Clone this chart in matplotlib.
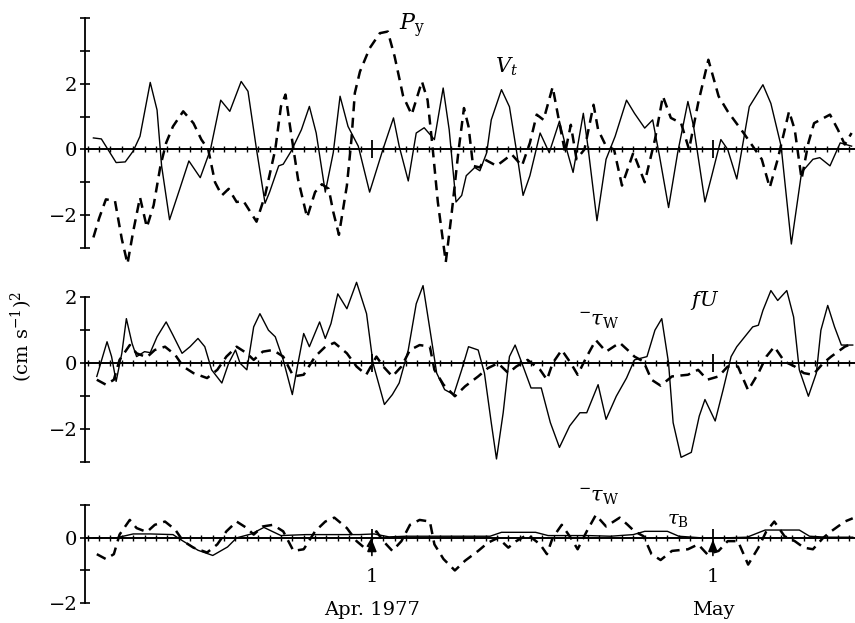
import matplotlib
matplotlib.use("Agg")
import matplotlib.pyplot as plt
from matplotlib.ticker import MultipleLocator, FixedLocator

plt.rcParams['font.family'] = ['DejaVu Serif']
plt.rcParams['mathtext.fontset'] = 'dejavuserif'

# days relative to 1 April 1977
vt_days = [-24.5, -23.8, -22.5, -21.7, -21.0, -20.4, -19.5, -18.9, -18.5, -17.8,
           -16.9, -16.1, -15.1, -14.2, -13.3, -12.5, -11.5, -10.9, -10.15, -9.4,
           -9.0, -8.2, -7.8, -7.1, -6.2, -5.5, -4.9, -4.1, -3.4, -2.8,
           -2.1, -1.2, -0.2, 0.97, 1.9, 2.4, 3.2, 3.9, 4.6, 5.5,
           6.27, 6.8, 7.4, 7.9, 8.3, 9.05, 9.5, 10.1, 10.5, 11.4,
           12.1, 12.7, 13.3, 13.9, 14.8, 15.6, 16.5, 16.97, 17.7, 18.6,
           19.0, 19.8, 20.6, 21.4, 22.4, 23.1, 24.0, 24.7, 25.3, 26.1,
           26.9, 27.8, 28.3, 29.3, 29.9, 30.7, 31.3, 32.1, 33.2, 34.4,
           35.1, 36.0, 36.9, 37.8, 38.8, 39.4, 40.3, 41.2, 42.2]
vt_vals = [0.35, 0.32, -0.4, -0.38, -0.05, 0.4, 2.04, 1.2, -0.5, -2.14,
           -1.2, -0.35, -0.86, 0.0, 1.5, 1.16, 2.07, 1.77, 0.0, -1.64,
           -1.3, -0.5, -0.45, -0.05, 0.6, 1.31, 0.5, -1.3, -0.1, 1.62,
           0.7, 0.1, -1.3, 0.0, 0.96, 0.1, -0.96, 0.5, 0.66, 0.3,
           1.87, 0.6, -1.6, -1.4, -0.8, -0.55, -0.65, -0.1, 0.9, 1.82,
           1.3, 0.0, -1.4, -0.8, 0.5, -0.1, 0.86, 0.2, -0.7, 1.1,
           0.1, -2.17, -0.3, 0.4, 1.5, 1.1, 0.65, 0.9, -0.2, -1.77,
           -0.1, 1.46, 0.7, -1.6, -0.8, 0.3, 0.0, -0.9, 1.3, 1.97,
           1.4, 0.1, -2.88, -0.7, -0.3, -0.25, -0.5, 0.2, 0.1]

py_days = [-24.5, -24.0, -23.4, -22.6, -22.0, -21.5, -21.0, -20.4, -19.8, -19.2,
           -18.6, -18.1, -17.5, -16.6, -15.7, -15.0, -14.4, -13.8, -13.2, -12.6,
           -11.9, -11.3, -10.15, -9.4, -8.5, -8.0, -7.6, -7.2, -6.5, -5.7,
           -5.0, -4.4, -3.8, -3.4, -2.9, -2.2, -1.8, -1.5, -1.05, -0.2,
           0.7, 1.4, 2.0, 2.75, 3.5, 4.4, 4.9, 5.3, 5.8, 6.5,
           7.0, 7.6, 8.1, 8.5, 8.9, 9.5, 9.9, 10.97, 12.3, 13.2,
           13.9, 14.5, 15.1, 15.9, 16.5, 17.0, 17.5, 18.0, 18.7, 19.5,
           19.9, 20.6, 21.3, 22.0, 23.0, 24.0, 24.9, 25.6, 26.3, 27.2,
           27.9, 28.7, 29.6, 30.5, 31.3, 32.7, 33.5, 34.3, 35.0, 35.7,
           36.7, 37.2, 37.8, 38.4, 38.9, 40.3, 41.0, 41.6, 42.2]
py_vals = [-2.68, -2.1, -1.52, -1.57, -2.73, -3.48, -2.5, -1.46, -2.37, -1.7,
           -0.5, 0.2, 0.7, 1.16, 0.8, 0.3, 0.0, -1.0, -1.4, -1.2,
           -1.6, -1.57, -2.2, -1.4, 0.0, 1.31, 1.67, 0.7, -0.9, -2.07,
           -1.3, -1.06, -1.2, -1.9, -2.6, -1.1, 0.3, 1.72, 2.37, 3.08,
           3.54, 3.59, 2.83, 1.62, 1.06, 2.07, 1.5, 0.2, -1.6, -3.43,
           -2.0, -0.1, 1.26, 0.7, -0.5, -0.55, -0.3, -0.5, -0.15, -0.5,
           0.2, 1.06, 0.9, 1.9, 0.8, -0.1, 0.75, -0.3, 0.0, 1.36,
           0.6, 0.1, 0.0, -1.1, -0.1, -1.0, 0.3, 1.62, 0.96, 0.8,
           0.0, 1.41, 2.73, 1.62, 1.16, 0.5, 0.1, -0.3, -1.16, -0.3,
           1.16, 0.6, -0.9, 0.2, 0.8, 1.06, 0.6, 0.15, 0.5]

fu_days = [-24.2, -23.3, -22.9, -22.5, -22.0, -21.6, -21.1, -20.7, -20.0, -19.5,
           -18.9, -18.1, -17.5, -16.7, -16.0, -15.3, -14.7, -14.1, -13.2, -12.6,
           -12.0, -11.6, -11.0, -10.4, -9.85, -9.1, -8.5, -7.8, -7.0, -6.5,
           -6.0, -5.5, -4.6, -4.1, -3.6, -3.0, -2.2, -1.35, -0.47, 0.1,
           1.1, 1.8, 2.4, 3.2, 3.9, 4.5, 5.25, 5.7, 6.4, 7.2,
           7.9, 8.5, 9.35, 9.9, 10.5, 10.96, 11.55, 12.1, 12.6, 13.2,
           14.0, 14.9, 15.7, 16.5, 17.4, 18.3, 18.9, 19.9, 20.6, 21.5,
           22.4, 23.1, 24.2, 24.9, 25.5, 26.1, 26.5, 27.2, 28.1, 28.8,
           29.3, 30.2, 30.9, 31.6, 32.1, 32.8, 33.5, 34.0, 34.4, 35.1,
           35.7, 36.5, 37.1, 37.6, 38.4, 39.1, 39.5, 40.1, 40.7, 41.3, 42.3]
fu_vals = [-0.4, 0.65, 0.2, -0.55, 0.3, 1.35, 0.6, 0.2, 0.35, 0.32,
           0.8, 1.25, 0.85, 0.3, 0.5, 0.75, 0.5, -0.2, -0.6, 0.0,
           0.4, 0.0, -0.2, 1.1, 1.5, 1.0, 0.8, 0.1, -0.95, 0.0,
           0.9, 0.5, 1.25, 0.75, 1.2, 2.1, 1.65, 2.45, 1.5, 0.0,
           -1.25, -0.95, -0.6, 0.4, 1.8, 2.35, 0.7, -0.3, -0.8, -0.95,
           -0.2, 0.5, 0.4, -0.3, -1.8, -2.9, -1.5, 0.2, 0.55, 0.0,
           -0.75, -0.75, -1.8, -2.55, -1.9, -1.5, -1.5, -0.65, -1.7, -1.0,
           -0.45, 0.1, 0.2, 1.0, 1.35, 0.0, -1.8, -2.85, -2.7, -1.6,
           -1.1, -1.75, -0.8, 0.2, 0.5, 0.8, 1.1, 1.15, 1.6, 2.2,
           1.9, 2.2, 1.4, -0.2, -1.0, -0.3, 1.0, 1.75, 1.1, 0.55, 0.55]

tw_days = [-24.2, -23.4, -22.7, -22.2, -21.3, -20.7, -19.8, -19.1, -18.2, -17.3,
           -16.6, -15.7, -14.5, -13.6, -12.8, -11.9, -11.0, -10.4, -9.6, -8.7,
           -7.8, -6.9, -6.0, -5.0, -4.1, -3.3, -2.2, -1.35, -0.5, 0.4,
           1.0, 1.8, 2.6, 3.35, 4.2, 5.1, 5.5, 6.3, 7.3, 8.2,
           9.35, 10.2, 11.1, 12.0, 12.7, 13.7, 14.8, 15.4, 15.9, 16.7,
           17.5, 18.1, 18.9, 19.7, 20.6, 21.8, 22.5, 23.1, 23.9, 24.6,
           25.4, 26.4, 27.8, 28.7, 29.5, 30.5, 31.3, 32.2, 33.1, 34.0,
           34.7, 35.4, 36.3, 37.2, 38.0, 38.8, 39.7, 40.4, 41.6, 42.3]
tw_vals = [-0.5, -0.65, -0.5, 0.1, 0.55, 0.3, 0.18, 0.4, 0.5, 0.25,
           -0.1, -0.3, -0.45, -0.2, 0.2, 0.5, 0.3, 0.1, 0.35, 0.4,
           0.2, -0.4, -0.35, 0.2, 0.5, 0.62, 0.3, -0.1, -0.35, 0.2,
           -0.1, -0.4, -0.1, 0.4, 0.55, 0.5, -0.2, -0.65, -1.0, -0.7,
           -0.4, -0.15, 0.0, -0.3, -0.1, 0.1, -0.2, -0.5, 0.0, 0.4,
           0.0, -0.35, 0.2, 0.7, 0.35, 0.62, 0.4, 0.2, 0.05, -0.5,
           -0.68, -0.4, -0.35, -0.2, -0.5, -0.4, -0.1, -0.1, -0.82, -0.3,
           0.2, 0.5, 0.05, -0.1, -0.3, -0.35, 0.0, 0.2, 0.5, 0.6]

tb_days = [-24.5, -22.5, -21.0, -19.5, -17.5, -16.7, -15.3, -14.0, -12.7, -11.9,
           -10.6, -9.5, -8.0, -5.8, -3.5, -1.1, 0.2, 1.5, 3.0, 5.0,
           7.0, 9.0, 10.4, 11.4, 13.0, 14.4, 15.5, 17.0, 19.0, 21.0,
           23.0, 24.0, 25.0, 26.0, 27.0, 29.0, 31.0, 33.0, 34.6, 36.0,
           37.6, 38.5, 40.0, 41.0, 42.3]
tb_vals = [0.0, 0.0, 0.12, 0.12, 0.1, -0.08, -0.38, -0.54, -0.28, 0.0,
           0.12, 0.32, 0.07, 0.1, 0.1, 0.1, 0.12, 0.03, 0.05, 0.05,
           0.05, 0.05, 0.05, 0.17, 0.17, 0.17, 0.07, 0.07, 0.07, 0.05,
           0.1, 0.2, 0.2, 0.2, 0.05, 0.0, 0.0, 0.02, 0.24, 0.24,
           0.24, 0.05, 0.02, 0.02, 0.02]

XLIM = (-25.24, 42.5)
DASH = dict(color='black', lw=1.8, ls=(0, (4, 2.6)), clip_on=False)
SOLID = dict(color='black', lw=1.0, clip_on=False)

fig = plt.figure(figsize=(8.55, 6.23), dpi=100)
ax1 = fig.add_axes([0.0994, 0.602, 0.9006, 0.369])
ax2 = fig.add_axes([0.0994, 0.258, 0.9006, 0.265])
ax3 = fig.add_axes([0.0994, 0.032, 0.9006, 0.157])


def style(ax, lo, hi, labels):
    ax.set_xlim(*XLIM)
    ax.set_ylim(lo, hi)
    ax.patch.set_alpha(0)
    for s in ['top', 'right']:
        ax.spines[s].set_visible(False)
    ax.spines['left'].set_linewidth(1.3)
    ax.spines['bottom'].set_position(('data', 0))
    ax.spines['bottom'].set_linewidth(1.4)
    vals = list(range(lo, hi + 1))
    ax.yaxis.set_major_locator(FixedLocator(vals))
    ax.set_yticklabels([('\u2212' + str(-v) if v < 0 else str(v)) if v in labels else ''
                        for v in vals])
    ax.tick_params(axis='y', direction='inout', length=7, width=1.2, labelsize=14, pad=2)
    ax.xaxis.set_major_locator(FixedLocator([0, 30]))
    ax.xaxis.set_minor_locator(MultipleLocator(1))
    ax.tick_params(axis='x', which='major', direction='inout', length=13, width=1.3,
                   labelbottom=False)
    ax.tick_params(axis='x', which='minor', direction='inout', length=5, width=1.0)


style(ax1, -3, 4, [2, 0, -2])
style(ax2, -3, 2, [2, 0, -2])
style(ax3, -2, 1, [0, -2])

ax1.plot(vt_days, vt_vals, **SOLID)
ax1.plot(py_days, py_vals, **DASH)
ax1.text(3.5, 3.75, r'$P_{\rm y}$', fontsize=16, ha='center', va='center')
ax1.text(11.8, 2.5, r'$V_t$', fontsize=15, ha='center', va='center')

ax2.plot(fu_days, fu_vals, **SOLID)
ax2.plot(tw_days, tw_vals, **DASH)
ax2.text(29.3, 1.9, r'$fU$', fontsize=15, ha='center', va='center')
ax2.text(20.0, 1.3, r'$^{-}\tau_{\rm W}$', fontsize=15, ha='center', va='center')

ax3.plot(tb_days, tb_vals, **SOLID)
ax3.plot(tw_days, tw_vals, **DASH)
ax3.text(20.0, 1.25, r'$^{-}\tau_{\rm W}$', fontsize=15, ha='center', va='center')
ax3.text(26.9, 0.55, r'$\tau_{\rm B}$', fontsize=14, ha='center', va='center')

for d, name in [(0, 'Apr. 1977'), (30, 'May')]:
    ax3.annotate('1', xy=(d, -0.05), xytext=(d, -1.2), ha='center', va='center',
                 fontsize=14, annotation_clip=False,
                 arrowprops=dict(arrowstyle='-|>,head_length=0.5,head_width=0.2',
                                 color='black', lw=1.2, shrinkA=7, shrinkB=0))
    ax3.text(d, -2.2, name, ha='center', va='center', fontsize=14, clip_on=False)

fig.text(0.026, 0.46, r'(cm s$^{-1}$)$^2$', rotation=90, ha='center', va='center',
         fontsize=14)

fig.savefig('out.png', dpi=100)
